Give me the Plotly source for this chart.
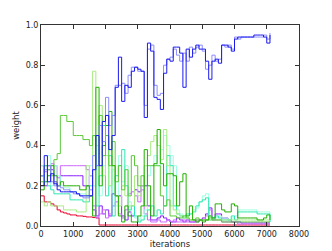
import plotly.graph_objects as go

iterations = list(range(0, 7200, 100))

red = [0.15,0.12,0.12,0.11,0.10,0.08,0.07,0.065,0.06,0.055,0.055,0.05,0.05,0.048,0.045,0.045,0.042,0.04,0.005,0.005,
       0.005,0.005,0.005,0.005,0.005,0.005,0.005,0.005,0.005,0.005,0.005,0.005,0.005,0.005,0.005,0.005,0.005,0.005,0.005,0.005,
       0.005,0.005,0.005,0.005,0.005,0.005,0.005,0.005,0.005,0.005,0.005,0.005,0.005,0.005,0.005,0.005,0.005,0.005,0.005,0.005,
       0.005,0.005,0.005,0.005,0.005,0.005,0.005,0.005,0.005,0.005,0.005,0.005]

purple = [0.25,0.20,0.30,0.28,0.22,0.20,0.25,0.25,0.25,0.25,0.25,0.25,0.25,0.20,0.20,0.25,0.08,0.05,0.10,0.06,
          0.08,0.05,0.16,0.15,0.15,0.05,0.03,0.07,0.05,0.18,0.17,0.20,0.20,0.10,0.03,0.03,0.04,0.05,0.04,0.03,
          0.02,0.02,0.04,0.03,0.02,0.03,0.02,0.02,0.03,0.03,0.04,0.06,0.09,0.03,0.06,0.06,0.04,0.04,0.03,0.02,
          0.02,0.02,0.015,0.015,0.015,0.015,0.015,0.015,0.015,0.015,0.015,0.015]

violet = [0.30,0.27,0.28,0.31,0.30,0.24,0.30,0.30,0.30,0.30,0.30,0.30,0.30,0.30,0.28,0.15,0.10,0.04,0.06,0.08,
          0.04,0.06,0.10,0.12,0.06,0.04,0.08,0.16,0.17,0.15,0.12,0.18,0.06,0.03,0.02,0.02,0.03,0.02,0.02,0.03,
          0.02,0.03,0.02,0.02,0.03,0.02,0.02,0.02,0.02,0.03,0.03,0.05,0.08,0.04,0.03,0.03,0.02,0.02,0.02,0.02,
          0.02,0.01,0.01,0.01,0.01,0.01,0.01,0.01,0.01,0.01,0.01,0.01]

cyan_light = [0.30,0.22,0.35,0.20,0.30,0.25,0.20,0.19,0.19,0.17,0.17,0.16,0.16,0.16,0.15,0.30,0.20,0.40,0.15,0.30,
              0.45,0.20,0.28,0.10,0.35,0.22,0.30,0.12,0.06,0.04,0.03,0.05,0.08,0.25,0.30,0.35,0.30,0.38,0.45,0.40,
              0.35,0.30,0.08,0.06,0.05,0.05,0.06,0.08,0.09,0.12,0.15,0.16,0.05,0.04,0.04,0.05,0.04,0.04,0.03,0.04,
              0.05,0.08,0.08,0.08,0.08,0.08,0.08,0.07,0.07,0.07,0.07,0.02]

cyan = [0.25,0.30,0.20,0.18,0.16,0.16,0.16,0.16,0.16,0.13,0.13,0.13,0.13,0.12,0.12,0.20,0.45,0.10,0.25,0.50,
        0.15,0.35,0.05,0.25,0.30,0.38,0.20,0.08,0.10,0.05,0.02,0.03,0.05,0.08,0.10,0.05,0.08,0.06,0.10,0.35,
        0.30,0.10,0.06,0.05,0.04,0.06,0.06,0.07,0.10,0.12,0.13,0.14,0.03,0.04,0.05,0.04,0.03,0.03,0.03,0.05,
        0.03,0.07,0.07,0.07,0.07,0.07,0.07,0.06,0.06,0.06,0.06,0.02]

green_light = [0.12,0.10,0.12,0.10,0.10,0.10,0.10,0.08,0.08,0.08,0.08,0.07,0.07,0.07,0.30,0.25,0.77,0.40,0.60,0.25,
               0.35,0.20,0.30,0.15,0.10,0.20,0.15,0.10,0.10,0.25,0.15,0.20,0.30,0.35,0.42,0.45,0.40,0.33,0.48,0.30,
               0.10,0.08,0.06,0.05,0.04,0.04,0.03,0.03,0.03,0.03,0.03,0.03,0.03,0.03,0.03,0.03,0.03,0.03,0.03,0.03,
               0.03,0.03,0.03,0.03,0.03,0.03,0.03,0.03,0.03,0.03,0.03,0.03]

green_mid = [0.22,0.30,0.28,0.25,0.33,0.36,0.55,0.55,0.52,0.52,0.45,0.45,0.45,0.43,0.43,0.40,0.45,0.30,0.55,0.35,
             0.45,0.30,0.42,0.22,0.30,0.18,0.28,0.15,0.35,0.30,0.20,0.25,0.10,0.30,0.30,0.30,0.30,0.15,0.10,0.13,
             0.05,0.05,0.04,0.04,0.05,0.04,0.03,0.03,0.04,0.03,0.03,0.03,0.04,0.03,0.03,0.03,0.02,0.02,0.02,0.02,
             0.02,0.02,0.02,0.02,0.02,0.02,0.02,0.02,0.02,0.02,0.02,0.02]

green_dark = [0.18,0.22,0.25,0.30,0.25,0.20,0.22,0.20,0.20,0.20,0.20,0.20,0.18,0.18,0.20,0.15,0.05,0.69,0.20,0.40,
              0.50,0.57,0.30,0.15,0.05,0.02,0.10,0.05,0.02,0.02,0.05,0.10,0.38,0.20,0.05,0.31,0.48,0.31,0.20,0.26,
              0.26,0.25,0.10,0.22,0.26,0.05,0.10,0.03,0.02,0.03,0.02,0.03,0.05,0.04,0.11,0.11,0.08,0.07,0.07,0.11,
              0.10,0.04,0.04,0.04,0.04,0.04,0.04,0.03,0.03,0.04,0.055,0.03]

blue_light = [0.25,0.28,0.30,0.22,0.20,0.20,0.19,0.18,0.18,0.17,0.16,0.16,0.15,0.14,0.14,0.18,0.35,0.30,0.50,0.42,
              0.64,0.50,0.55,0.70,0.70,0.71,0.66,0.75,0.79,0.79,0.77,0.77,0.60,0.88,0.90,0.70,0.65,0.66,0.80,0.83,
              0.84,0.88,0.85,0.82,0.86,0.82,0.89,0.86,0.89,0.90,0.87,0.78,0.80,0.85,0.82,0.83,0.90,0.89,0.90,0.88,
              0.94,0.93,0.94,0.94,0.94,0.94,0.94,0.94,0.94,0.95,0.93,0.96]

blue = [0.20,0.35,0.22,0.26,0.21,0.18,0.17,0.17,0.17,0.17,0.17,0.16,0.15,0.15,0.15,0.15,0.28,0.45,0.30,0.52,
        0.55,0.38,0.45,0.69,0.84,0.62,0.70,0.69,0.77,0.79,0.78,0.77,0.54,0.91,0.87,0.64,0.63,0.58,0.76,0.83,
        0.82,0.89,0.89,0.86,0.69,0.88,0.84,0.88,0.90,0.88,0.88,0.82,0.73,0.82,0.83,0.81,0.90,0.90,0.89,0.87,
        0.93,0.94,0.94,0.94,0.94,0.94,0.95,0.95,0.95,0.94,0.91,0.95]

series = [
    ("red", red, "#e8002a"),
    ("purple", purple, "#8a1cff"),
    ("violet", violet, "#cc66ff"),
    ("cyan light", cyan_light, "#9effe0"),
    ("cyan", cyan, "#2ee8b0"),
    ("green light", green_light, "#a8ec84"),
    ("green mid", green_mid, "#5cc83a"),
    ("green dark", green_dark, "#22b000"),
    ("blue light", blue_light, "#8c8cff"),
    ("blue", blue, "#1a1aee"),
]

fig = go.Figure()
for name, vals, col in series:
    fig.add_trace(go.Scatter(x=iterations, y=vals, mode="lines", name=name,
                             line=dict(color=col, width=1, shape="hv")))

axis_common = dict(showline=True, linecolor="#333333", linewidth=1, mirror="ticks",
                   ticks="inside", ticklen=4, tickcolor="#333333", showgrid=False,
                   zeroline=False, tickfont=dict(family="DejaVu Sans", size=8, color="#222222"))

fig.update_layout(
    width=332, height=251,
    margin=dict(l=41, r=33, t=25, b=25),
    paper_bgcolor="white", plot_bgcolor="white",
    showlegend=False,
    xaxis=dict(range=[0, 8000], tickvals=[0,1000,2000,3000,4000,5000,6000,7000,8000],
               title=dict(text="iterations", font=dict(family="DejaVu Sans", size=8.5, color="#222222"), standoff=1),
               automargin=False, **axis_common),
    yaxis=dict(range=[0, 1], tickvals=[0,0.2,0.4,0.6,0.8,1.0], ticktext=["0.0","0.2","0.4","0.6","0.8","1.0"],
               title=dict(text="weight", font=dict(family="DejaVu Sans", size=8.5, color="#222222"), standoff=4),
               automargin=False, **axis_common),
)

fig.write_html("out.html", config={"displayModeBar": False},
               post_script="document.body.style.margin='0';")
